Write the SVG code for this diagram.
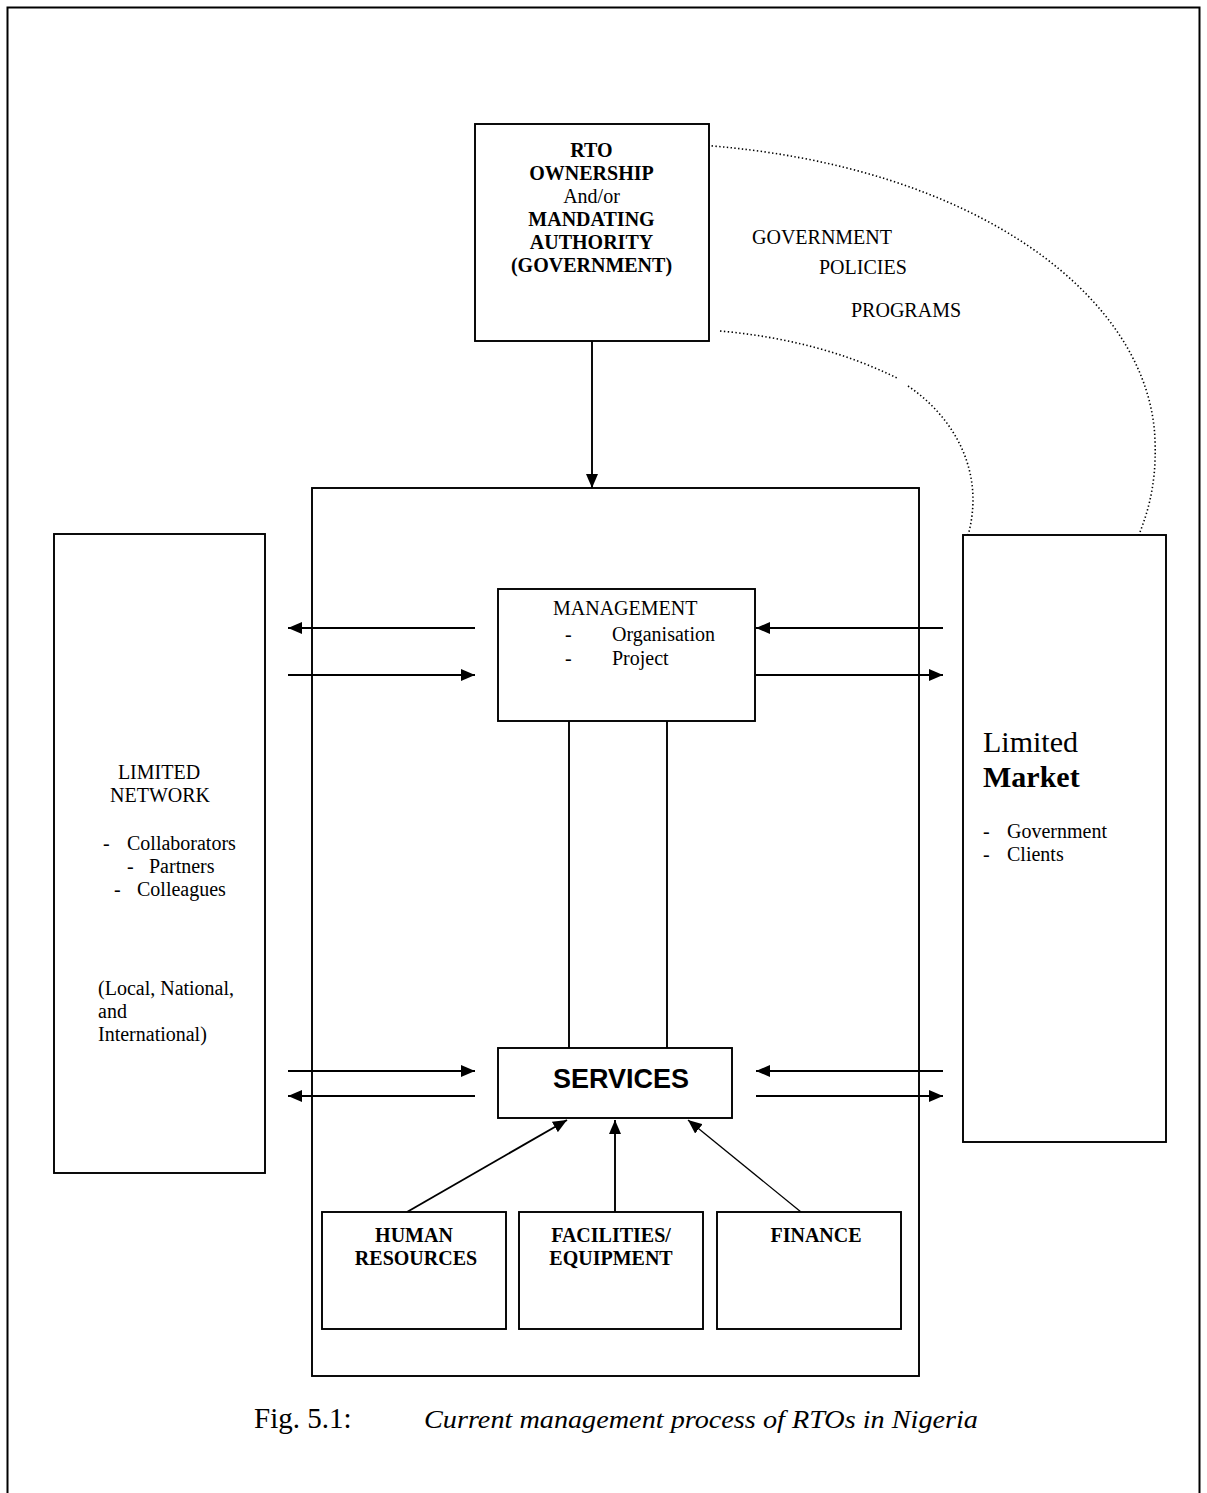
<svg xmlns="http://www.w3.org/2000/svg" width="1207" height="1493" viewBox="0 0 1207 1493">
<style>
.box{fill:#fff;stroke:#000;stroke-width:1.9}
.t{font-family:"Liberation Serif","Times New Roman",serif;font-size:20px;fill:#000}
.b{font-weight:bold}
.c{text-anchor:middle}
.ln{stroke:#000;stroke-width:1.9;fill:none}
.dot{stroke:#000;stroke-width:1.6;fill:none;stroke-dasharray:1.4 2.4}
</style>
<defs>
<marker id="ah" viewBox="0 0 14 12" refX="14" refY="6" markerWidth="14" markerHeight="12" markerUnits="userSpaceOnUse" orient="auto">
<path d="M0,0 L14,6 L0,12 z" fill="#000"/>
</marker>
</defs>
<rect width="1207" height="1493" fill="#fff"/>
<path d="M7.5,1493 V7.5 H1199.5 V1493" fill="none" stroke="#000" stroke-width="2"/>

<g id="connectors">
<line class="ln" x1="592" y1="341" x2="592" y2="488" marker-end="url(#ah)"/>
<path class="dot" d="M700,145 C980,165 1150,300 1155,440 C1157,490 1145,520 1136,542"/>
<path class="dot" d="M720,331 Q820,340 897,378"/>
<path class="dot" d="M908,386 C955,418 988,475 966,542"/>
<line class="ln" x1="475" y1="628" x2="288" y2="628" marker-end="url(#ah)"/>
<line class="ln" x1="288" y1="675" x2="475" y2="675" marker-end="url(#ah)"/>
<line class="ln" x1="943" y1="628" x2="756" y2="628" marker-end="url(#ah)"/>
<line class="ln" x1="756" y1="675" x2="943" y2="675" marker-end="url(#ah)"/>
<line class="ln" x1="569" y1="721" x2="569" y2="1048"/>
<line class="ln" x1="667" y1="721" x2="667" y2="1048"/>
<line class="ln" x1="288" y1="1071" x2="475" y2="1071" marker-end="url(#ah)"/>
<line class="ln" x1="475" y1="1096" x2="288" y2="1096" marker-end="url(#ah)"/>
<line class="ln" x1="943" y1="1071" x2="756" y2="1071" marker-end="url(#ah)"/>
<line class="ln" x1="756" y1="1096" x2="943" y2="1096" marker-end="url(#ah)"/>
<line class="ln" x1="407" y1="1212" x2="567" y2="1120" marker-end="url(#ah)"/>
<line class="ln" x1="615" y1="1212" x2="615" y2="1120" marker-end="url(#ah)"/>
<line x1="801" y1="1212" x2="688" y2="1120" stroke="#000" stroke-width="1.3" marker-end="url(#ah)"/>
</g>

<g id="govtext">
<text class="t" x="752" y="244">GOVERNMENT</text>
<text class="t" x="819" y="274">POLICIES</text>
<text class="t" x="851" y="317">PROGRAMS</text>
</g>

<g id="owner">
<rect class="box" x="475" y="124" width="234" height="217"/>
<text class="t b c" x="591.5" y="157">RTO</text>
<text class="t b c" x="591.5" y="180">OWNERSHIP</text>
<text class="t c" x="591.5" y="203">And/or</text>
<text class="t b c" x="591.5" y="226">MANDATING</text>
<text class="t b c" x="591.5" y="249">AUTHORITY</text>
<text class="t b c" x="591.5" y="272">(GOVERNMENT)</text>
</g>

<g id="container">
<rect x="312" y="488" width="607" height="888" fill="none" stroke="#000" stroke-width="1.9"/>
</g>

<g id="network">
<rect class="box" x="54" y="534" width="211" height="639"/>
<text class="t c" x="159" y="779">LIMITED</text>
<text class="t c" x="160" y="802">NETWORK</text>
<text class="t" x="103" y="850">-</text><text class="t" x="127" y="850">Collaborators</text>
<text class="t" x="127" y="873">-</text><text class="t" x="149" y="873">Partners</text>
<text class="t" x="114" y="896">-</text><text class="t" x="137" y="896">Colleagues</text>
<text class="t" x="98" y="995">(Local, National,</text>
<text class="t" x="98" y="1018">and</text>
<text class="t" x="98" y="1041">International)</text>
</g>

<g id="market">
<rect class="box" x="963" y="535" width="203" height="607"/>
<text class="t" x="983" y="752" style="font-size:30px">Limited</text>
<text class="t b" x="983" y="787" style="font-size:30px">Market</text>
<text class="t" x="983" y="838">-</text><text class="t" x="1007" y="838">Government</text>
<text class="t" x="983" y="861">-</text><text class="t" x="1007" y="861">Clients</text>
</g>

<g id="management">
<rect class="box" x="498" y="589" width="257" height="132"/>
<text class="t" x="553" y="615">MANAGEMENT</text>
<text class="t" x="565" y="641">-</text><text class="t" x="612" y="641">Organisation</text>
<text class="t" x="565" y="665">-</text><text class="t" x="612" y="665">Project</text>
</g>

<g id="services">
<rect class="box" x="498" y="1048" width="234" height="70"/>
<text x="621" y="1088" text-anchor="middle" font-family="Liberation Sans, Arial, sans-serif" font-weight="bold" font-size="27">SERVICES</text>
</g>

<g id="hr">
<rect class="box" x="322" y="1212" width="184" height="117"/>
<text class="t b c" x="414" y="1242">HUMAN</text>
<text class="t b c" x="416" y="1265">RESOURCES</text>
</g>
<g id="facilities">
<rect class="box" x="519" y="1212" width="184" height="117"/>
<text class="t b c" x="611" y="1242">FACILITIES/</text>
<text class="t b c" x="611" y="1265">EQUIPMENT</text>
</g>
<g id="finance">
<rect class="box" x="717" y="1212" width="184" height="117"/>
<text class="t b c" x="816" y="1242">FINANCE</text>
</g>

<g id="caption">
<text x="254" y="1428" font-family="Liberation Serif, Times New Roman, serif" font-size="29">Fig. 5.1:</text>
<text x="424" y="1428" font-family="Liberation Serif, Times New Roman, serif" font-size="25" font-style="italic" textLength="554" lengthAdjust="spacingAndGlyphs">Current management process of RTOs in Nigeria</text>
</g>
</svg>
